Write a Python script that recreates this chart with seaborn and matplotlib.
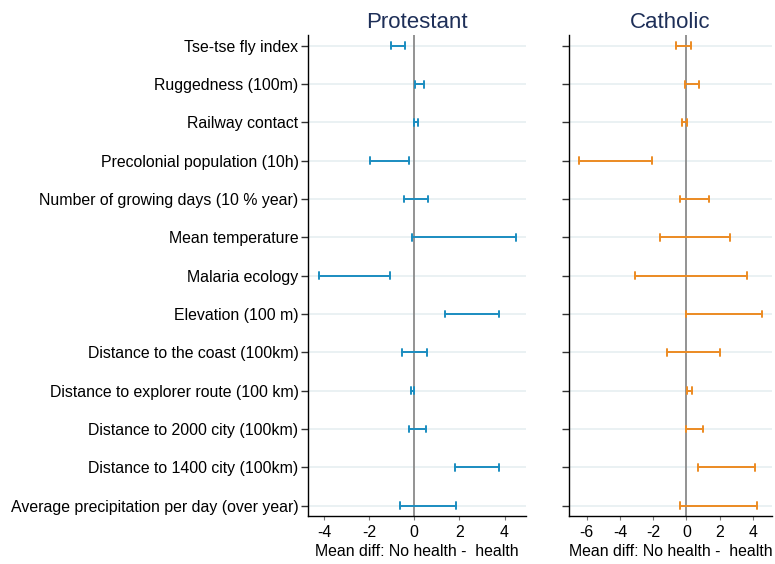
import numpy as np
import pandas as pd
import matplotlib
matplotlib.use("Agg")
import matplotlib.pyplot as plt
import seaborn as sns

sns.set_theme(style="white")
plt.rcParams['font.family'] = ['Liberation Sans', 'DejaVu Sans']
plt.rcParams['text.color'] = 'black'
plt.rcParams['axes.labelcolor'] = 'black'
plt.rcParams['xtick.color'] = 'black'
plt.rcParams['ytick.color'] = 'black'

variables = [
    "Tse-tse fly index",
    "Ruggedness (100m)",
    "Railway contact",
    "Precolonial population (10h)",
    "Number of growing days (10 % year)",
    "Mean temperature",
    "Malaria ecology",
    "Elevation (100 m)",
    "Distance to the coast (100km)",
    "Distance to explorer route (100 km)",
    "Distance to 2000 city (100km)",
    "Distance to 1400 city (100km)",
    "Average precipitation per day (over year)",
]

prot_lo = [-1.05, 0.04, -0.01, -1.95, -0.44, -0.09, -4.24, 1.35, -0.53, -0.15, -0.25, 1.82, -0.63]
prot_hi = [-0.40, 0.44, 0.16, -0.24, 0.59, 4.50, -1.08, 3.74, 0.58, -0.03, 0.52, 3.74, 1.84]
cath_lo = [-0.64, -0.06, -0.28, -6.45, -0.38, -1.58, -3.11, -0.04, -1.16, 0.06, -0.02, 0.72, -0.36]
cath_hi = [0.27, 0.78, 0.02, -2.07, 1.39, 2.63, 3.66, 4.54, 2.05, 0.33, 1.01, 4.12, 4.26]

panels = [
    ("Protestant", prot_lo, prot_hi, "#1b8dc0", (-4.70, 4.94), [-4, -2, 0, 2, 4]),
    ("Catholic", cath_lo, cath_hi, "#ec8b23", (-7.05, 5.14), [-6, -4, -2, 0, 2, 4]),
]

fig = plt.figure(figsize=(7.75, 5.64), dpi=100)
positions = [
    [308.3 / 775, 1 - 516 / 564, (525.7 - 308.3) / 775, (516 - 35) / 564],
    [569.3 / 775, 1 - 516 / 564, (771.7 - 569.3) / 775, (516 - 35) / 564],
]

FS = 11.4
for i, (title, lo, hi, color, xlim, xticks) in enumerate(panels):
    ax = fig.add_axes(positions[i])
    df = pd.DataFrame({
        "variable": variables * 2,
        "value": list(lo) + list(hi),
    })
    ax.axvline(0, color="#8a8a8a", linewidth=1.3, zorder=1)
    sns.pointplot(
        data=df, x="value", y="variable", order=variables, orient="h",
        estimator="mean", errorbar=("pi", 100), color=color,
        marker="", linestyle="none", capsize=0.18,
        err_kws={"linewidth": 1.4}, ax=ax,
    )
    ax.yaxis.grid(True, color="#e6eff1", linewidth=1.2)
    ax.xaxis.grid(False)
    ax.set_axisbelow(True)
    ax.set_xlim(*xlim)
    ax.set_ylim(12.27, -0.28)
    ax.set_xticks(xticks)
    ax.set_xticklabels([str(t) for t in xticks], fontsize=FS)
    ax.set_xlabel("Mean diff: No health -  health", fontsize=FS, labelpad=3)
    ax.set_ylabel("")
    ax.set_yticks(range(len(variables)))
    if i == 0:
        ax.set_yticklabels(variables, fontsize=FS)
    else:
        ax.set_yticklabels([])
    ax.tick_params(axis="y", length=5, width=1, pad=2, color="#333333", left=True)
    ax.tick_params(axis="x", length=3, width=0.8, pad=3.5, color="#777777", bottom=True)
    for s in ["top", "right"]:
        ax.spines[s].set_visible(False)
    for s in ["left", "bottom"]:
        ax.spines[s].set_color("black")
        ax.spines[s].set_linewidth(1.0)
    ax.set_title(title, fontsize=16, color="#1e2f58", pad=5)

fig.savefig("out.png", dpi=100)
